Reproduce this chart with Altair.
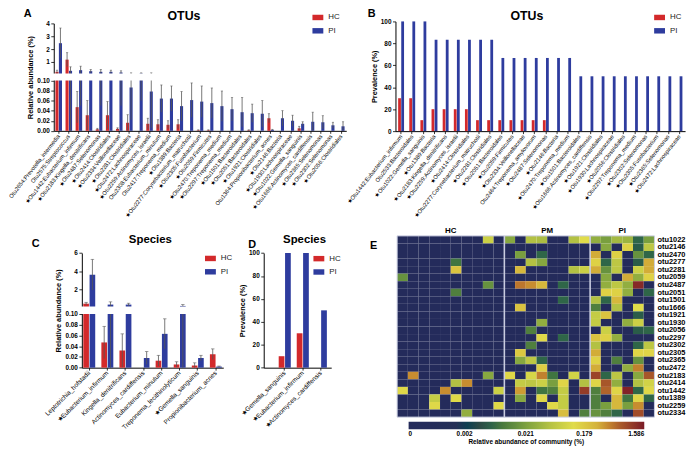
import math
import altair as alt
import pandas as pd

W, H = 692, 441


def V(p):
    return p - 8


FONT = "Liberation Sans"
RED = "#d3292b"
BLUE = "#2e3c9e"
ERRC = "#555555"
GROUPS = ["HC", "PI"]
ONE = pd.DataFrame({"k": [0]})

# ---------------- Panel A: OTUs relative abundance ----------------
A_labels = [
    "Otu2654:Prevotella_intermedia", "Otu2575:Streptococcus",
    "★Otu1442:Eubacterium_infirmum", "★Otu2183:Kingella_denitrificans",
    "★Otu2487:Selenomonas", "★Otu2414:Clostridiales", "★Otu2334:Veillonellaceae",
    "★Otu2281:Clostridiales", "★Otu2472:Lachnospiraceae", "★Otu2259:Actinomyces_israelii",
    "Otu2308:Eubacterium_minutum", "Otu2417:Treponema_medium", "★Otu1389:Bacteria",
    "★Otu2277:Corynebacterium_matruchotii", "★Otu2305:Fusobacterium", "★Otu2059:Firmicutes",
    "★Otu2470:Treponema_medium", "★Otu2297:Treponema_medium", "★Otu1501:Bacteroidales",
    "★Otu2051:Bacteroidales", "★Otu1921:Clostridiales", "Otu1364:Propionibacterium_acnes",
    "★Otu2146:Bacteria", "★Otu1930:Lachnospiraceae", "★Otu1022:Gemella_sanguinis",
    "★Otu1666:Actinomyces_cardiffensis", "★Otu2365:Selenomonas", "★Otu2302:Selenomonas",
    "★Otu2056:Clostridiales",
]
A_hc = [0.23, 1.18, 0.047, 0.031, 0.003, 0.031, 0.004, 0.016, 0.0, 0.014, 0.013, 0.012, 0.013,
        0.0, 0.001, 0.001, 0.0, 0.0, 0.0, 0.001, 0.0, 0.025, 0.0, 0.0, 0.005, 0.0, 0.0, 0.0, 0.0]
A_hc_hi = [0.36, 1.72, 0.078, 0.06, 0.005, 0.058, 0.006, 0.032, 0.0, 0.025, 0.022, 0.02, 0.022,
           0.0, 0.002, 0.002, 0.0, 0.0, 0.0, 0.002, 0.0, 0.034, 0.0, 0.0, 0.009, 0.0, 0.0, 0.0, 0.0]
A_pi = [2.46, 0.31, 0.36, 0.28, 0.23, 0.23, 0.18, 0.086, 0.105, 0.078, 0.064, 0.064, 0.049,
        0.061, 0.058, 0.055, 0.049, 0.043, 0.037, 0.035, 0.034, 0.002, 0.025, 0.02, 0.014,
        0.018, 0.017, 0.011, 0.009]
A_pi_hi = [3.64, 0.62, 0.67, 0.41, 0.41, 0.36, 0.31, 0.15, 0.15, 0.15, 0.091, 0.089, 0.078,
           0.095, 0.089, 0.085, 0.079, 0.066, 0.066, 0.053, 0.06, 0.003, 0.04, 0.031, 0.018,
           0.037, 0.03, 0.017, 0.018]

# ---------------- Panel B: OTUs prevalence ----------------
B_labels = [
    "★Otu1442:Eubacterium_infirmum", "Otu2533:Bacteroidales", "★Otu1022:Gemella_sanguinis",
    "★Otu1389:Bacteria", "★Otu2183:Kingella_denitrificans", "★Otu2259:Actinomyces_israelii",
    "★Otu2414:Clostridiales", "★Otu2277:Corynebacterium_matruchotii", "★Otu2281:Clostridiales",
    "★Otu2051:Bacteroidales", "★Otu2059:Firmicutes", "★Otu2334:Veillonellaceae",
    "Otu2464:Treponema_amylovorum", "★Otu2487:Selenomonas", "★Otu2146:Bacteria",
    "★Otu2470:Treponema_medium", "★Otu1501:Bacteroidales", "★Otu1666:Actinomyces_cardiffensis",
    "★Otu1921:Clostridiales", "★Otu1930:Lachnospiraceae", "★Otu2056:Clostridiales",
    "★Otu2297:Treponema_medium", "★Otu2302:Selenomonas", "★Otu2305:Fusobacterium",
    "★Otu2365:Selenomonas", "★Otu2472:Lachnospiraceae",
]
B_hc = [30, 30, 10, 20, 20, 20, 20, 10, 10, 10, 10, 10, 10, 10,
        0, 0, 0, 0, 0, 0, 0, 0, 0, 0, 0, 0]
B_pi = [100, 100, 100, 83.3, 83.3, 83.3, 83.3, 83.3, 83.3, 66.7, 66.7, 66.7, 66.7, 66.7,
        66.7, 66.7, 50, 50, 50, 50, 50, 50, 50, 50, 50, 50]

# ---------------- Panel C: Species relative abundance ----------------
C_labels = ["Leptotrichia_hofstadii", "★Eubacterium_infirmum", "Kingella_denitrificans",
            "Actinomyces_cardiffensis", "Eubacterium_minutum", "Treponema_lecithinolyticum",
            "★Gemella_sanguinis", "Propionibacterium_acnes"]
C_hc = [0.4, 0.047, 0.032, 0.0, 0.013, 0.006, 0.004, 0.025]
C_hc_hi = [0.55, 0.077, 0.063, 0.0, 0.023, 0.011, 0.009, 0.035]
C_pi = [3.6, 0.3, 0.3, 0.018, 0.063, 0.15, 0.018, 0.002]
C_pi_hi = [5.3, 0.6, 0.45, 0.03, 0.091, 0.3, 0.023, 0.003]

# ---------------- Panel D: Species prevalence ----------------
D_labels = ["★Gemella_sanguinis", "★Eubacterium_infirmum", "★Actinomyces_cardiffensis"]
D_hc = [10, 30, 0]
D_pi = [100, 100, 50]

# ---------------- Panel E: heatmap ----------------
E_rows = ["otu1022", "otu2146", "otu2470", "otu2277", "otu2281", "otu2059", "otu2487", "otu2051",
          "otu1501", "otu1666", "otu1921", "otu1930", "otu2056", "otu2297", "otu2302", "otu2305",
          "otu2365", "otu2472", "otu2183", "otu2414", "otu1442", "otu1389", "otu2259", "otu2334"]
E_groups = ["HC", "PM", "PI"]
E_hc = [
    [0, 0, 0, 0, 0, 0, 0, 0, 0.08, 0],
    [0, 0, 0, 0, 0, 0, 0, 0, 0, 0],
    [0, 0, 0, 0, 0, 0, 0, 0, 0, 0],
    [0, 0, 0, 0, 0, 0.008, 0, 0, 0, 0],
    [0, 0, 0, 0, 0, 0.2, 0, 0, 0, 0],
    [0.015, 0, 0, 0, 0, 0, 0, 0, 0, 0],
    [0, 0, 0, 0, 0, 0, 0, 0, 0.015, 0],
    [0, 0, 0, 0, 0, 0.01, 0, 0, 0, 0],
    [0, 0, 0, 0, 0, 0, 0, 0, 0, 0],
    [0, 0, 0, 0, 0, 0, 0, 0, 0, 0],
    [0, 0, 0, 0, 0, 0, 0, 0, 0, 0],
    [0, 0, 0, 0, 0, 0, 0, 0, 0, 0],
    [0, 0, 0, 0, 0, 0, 0, 0, 0, 0],
    [0, 0, 0, 0, 0, 0, 0, 0, 0, 0],
    [0, 0, 0, 0, 0, 0, 0, 0, 0, 0],
    [0, 0, 0, 0, 0, 0, 0, 0, 0, 0],
    [0, 0, 0, 0, 0, 0, 0, 0, 0, 0],
    [0, 0, 0, 0, 0, 0, 0, 0, 0, 0],
    [0, 0.4, 0, 0, 0, 0, 0, 0, 0.025, 0],
    [0, 0, 0, 0, 0, 0.05, 0.4, 0, 0, 0],
    [0.13, 0, 0, 0, 0.4, 0, 0, 0, 0, 0.08],
    [0, 0, 0, 0.07, 0, 0.13, 0, 0, 0, 0],
    [0, 0, 0, 0.13, 0, 0, 0, 0, 0, 0.13],
    [0, 0, 0, 0, 0, 0, 0.03, 0, 0, 0],
]
E_pm = [
    [0.025, 0, 0.05, 0.045, 0, 0, 0.05, 0.12],
    [0, 0, 0, 0, 0, 0, 0, 0],
    [0, 0.02, 0, 0.006, 0, 0, 0, 0],
    [0, 0, 0.05, 0.025, 0, 0, 0, 0],
    [0, 0.25, 0, 0, 0, 0, 0.05, 0.08],
    [0, 0, 0, 0, 0, 0, 0, 0],
    [0, 0.5, 0.4, 0.25, 0, 0.006, 0, 0],
    [0, 0, 0, 0, 0, 0, 0, 0],
    [0, 0, 0, 0, 0, 0.006, 0, 0],
    [0, 0.2, 0, 0, 0, 0, 0, 0],
    [0, 0, 0, 0, 0, 0, 0, 0],
    [0, 0, 0, 0.03, 0, 0, 0, 0],
    [0, 0, 0.01, 0, 0, 0, 0, 0],
    [0, 0, 0, 0.13, 0, 0.006, 0, 0],
    [0, 0, 0.01, 0, 0, 0, 0, 0],
    [0, 0.18, 0, 0, 0, 0, 0, 0],
    [0, 0.025, 0.06, 0.006, 0, 0, 0, 0],
    [0, 0, 0, 0.16, 0, 0, 0, 0],
    [0.13, 0, 0.1, 0.45, 0.008, 0, 0.09, 0],
    [0, 0.07, 0.06, 0.08, 0.02, 0.14, 0, 0.05],
    [0, 0.35, 0, 0.008, 0.01, 0.07, 0, 1.0],
    [0, 0.025, 0, 0.13, 0, 0.07, 0, 0],
    [0, 0, 0, 0, 0.13, 0.07, 0, 0],
    [0, 0, 0, 0, 0, 0.22, 0, 0.01],
]
E_pi = [
    [0.03, 0.02, 0.04, 0.035, 0.006, 0.02],
    [0, 0.025, 0, 0.15, 0.005, 0.06],
    [0.3, 0, 0.15, 0, 0.015, 0.006],
    [0.15, 0.006, 0.06, 0, 0.005, 0.3],
    [0.3, 0.015, 0.06, 0, 0.08, 0.3],
    [0, 0.025, 0, 0.3, 0.03, 0.15],
    [0, 0.03, 0.06, 0.03, 1.3, 0],
    [0, 0.15, 0.15, 0.03, 0, 0.006],
    [0.05, 0.006, 0.25, 0, 0, 0],
    [0.01, 0, 0.05, 0, 0.12, 0],
    [0.07, 0.2, 0, 0, 0.005, 0],
    [0.07, 0, 0, 0.03, 0.08, 0],
    [0, 0.08, 0, 0, 0.005, 0.006],
    [0.2, 0.15, 0.03, 0, 0, 0],
    [0.05, 0, 0, 0, 0.006, 0.06],
    [0.3, 0, 0, 0, 0.14, 0.14],
    [0.15, 0, 0.01, 0, 0.015, 0],
    [0.3, 0, 0, 0.03, 0.45, 0],
    [0.9, 0.006, 0.06, 0, 0.025, 0.7],
    [0.14, 0.7, 0.03, 0, 0.05, 0.09],
    [0.01, 0.6, 0.14, 1.4, 0.006, 0.13],
    [0.01, 0, 0.25, 0.008, 0.14, 0.006],
    [0.01, 0.02, 0.25, 0.02, 0.4, 0],
    [0.015, 0.01, 0.006, 0, 0.8, 0],
]
E_ticks = [0, 0.002, 0.021, 0.179, 1.586]
E_colors = ["#242b5b", "#242c5a", "#252f56", "#2b4a45", "#4a7a3d", "#7ea23f",
            "#b5c243", "#e0dc4a", "#d4b23a", "#a9592a", "#7a1a26"]

# symlog-style transform used for the colour axis
SYM_C = 0.0003
SYM_L = math.log1p(E_ticks[-1] / SYM_C)


def sym(v):
    return math.log1p(v / SYM_C) / SYM_L


def long_df(labels, hc, pi, hc_hi=None, pi_hi=None):
    recs = []
    for i, lab in enumerate(labels):
        for g, vals, his in (("HC", hc, hc_hi), ("PI", pi, pi_hi)):
            v = vals[i]
            hi = his[i] if his is not None else v
            recs.append(dict(cat=lab, group=g, value=v, hi=hi, lo=max(0.0, 2 * v - hi)))
    return pd.DataFrame(recs)


def color_enc(lx, ly, size=121):
    return alt.Color(
        "group:N",
        scale=alt.Scale(domain=GROUPS, range=[RED, BLUE]),
        legend=alt.Legend(
            orient="none", legendX=V(lx), legendY=V(ly), title=None,
            symbolType="M-1,-0.5H1V0.5H-1Z", symbolSize=size, symbolStrokeWidth=0,
            labelFont=FONT, labelFontSize=8, labelColor="#222222", labelOffset=5,
            rowPadding=3.5, padding=0,
        ),
    )


def bar_panel(df, labels, xr, pin, pout, align, x_axis_y, lab_size, lab_angle, ydomain, yrange,
              yvalues, y_axis_x, ytitle, legend_xy, broken=None, label_expr=None, tick_w=2.5):
    xscale = alt.Scale(domain=labels, range=[V(xr[0]), V(xr[1])], paddingInner=pin,
                       paddingOuter=pout, align=align)
    xaxis = alt.Axis(orient="bottom", offset=V(x_axis_y) - H, labelAngle=lab_angle,
                     labelAlign="right", labelBaseline="middle", labelFont=FONT,
                     labelFontSize=lab_size, labelColor="black", labelPadding=1.5, tickSize=2.5,
                     tickColor="black", tickWidth=0.8, domainColor="black", domainWidth=1,
                     labelOverlap=False, title=None, grid=False)
    X = alt.X("cat:N", sort=labels, scale=xscale, axis=xaxis)
    XO = alt.XOffset("group:N", sort=GROUPS, scale=alt.Scale(domain=GROUPS, paddingInner=0.1))
    yscale = alt.Scale(domain=ydomain, range=[V(r) for r in yrange], nice=False, zero=False)
    ykw = dict(orient="left", offset=-V(y_axis_x), values=yvalues, labelFont=FONT,
               labelFontSize=6.5, labelFontWeight="bold", labelColor="black", labelPadding=1.5,
               tickSize=3, tickColor="black", tickWidth=0.8, domainColor="black",
               domainWidth=1, title=ytitle, titleFont=FONT, titleFontSize=7.5,
               titleFontWeight="bold", titleColor="black", titlePadding=2, grid=False,
               labelOverlap=False)
    if label_expr:
        ykw["labelExpr"] = label_expr
    yaxis = alt.Axis(**ykw)
    base = alt.Chart(df)
    bars = base.mark_bar().encode(
        x=X, xOffset=XO, y=alt.Y("value:Q", scale=yscale, axis=yaxis), y2=alt.datum(0),
        color=color_enc(*legend_xy),
    )
    err = base.transform_filter("datum.hi > datum.value").mark_rule(
        color=ERRC, strokeWidth=0.8).encode(
        x=X, xOffset=XO, y=alt.Y("lo:Q", scale=yscale, axis=yaxis), y2="hi:Q")
    cap = base.transform_filter("datum.hi > datum.value").mark_tick(
        color=ERRC, thickness=0.8, size=tick_w, orient="horizontal").encode(
        x=X, xOffset=XO, y=alt.Y("hi:Q", scale=yscale, axis=yaxis))
    layers = [bars, err, cap]
    if broken:
        gap = alt.Chart(ONE).mark_rect(color="white").encode(
            x=alt.value(V(broken[0])), x2=alt.value(V(broken[1])),
            y=alt.YDatum(broken[2], type="quantitative", scale=yscale, axis=yaxis),
            y2=alt.Y2Datum(broken[3]),
        )
        layers.append(gap)
    return alt.layer(*layers)


def text_at(txt, x, y, size, weight="bold", color="black"):
    return alt.Chart(ONE).mark_text(text=txt, font=FONT, fontSize=size, fontWeight=weight,
                                    color=color, align="center", baseline="middle").encode(
        x=alt.value(V(x)), y=alt.value(V(y)))


broken_expr = "datum.value > 0.1001 ? format(datum.value, 'd') : format(datum.value, '.2f')"

panel_A = bar_panel(
    long_df(A_labels, A_hc, A_pi, A_hc_hi, A_pi_hi), A_labels, (54.3, 350.2), 0.35, 0.165, 0.5,
    129.7, 5.8, -52, [0, 0.1, 0.1001, 4], [129.7, 78.7, 71.7, 21],
    [0, 0.02, 0.04, 0.06, 0.08, 0.1, 1, 2, 3, 4], 54.3, "Relative abundance (%)",
    (316, 9.5), broken=(51, 352, 0.1, 0.1001), label_expr=broken_expr, tick_w=2.2)

panel_B = bar_panel(
    long_df(B_labels, B_hc, B_pi), B_labels, (400, 693), 0.47, 0.24, 0.5,
    130, 5.8, -52, [0, 100], [130, 19], [0, 20, 40, 60, 80, 100], 400, "Prevalence (%)",
    (661.7, 9.5))

panel_C = bar_panel(
    long_df(C_labels, C_hc, C_pi, C_hc_hi, C_pi_hi), C_labels, (82.7, 225.8), 0.34, 0.08, 0.5,
    369.3, 6.5, -45, [0, 0.1, 0.1001, 6], [369.3, 315, 307.3, 253.3],
    [0, 0.02, 0.04, 0.06, 0.08, 0.1, 2, 4, 6], 82.7, "Relative abundance (%)",
    (207.3, 253.3), broken=(79.5, 228, 0.1, 0.1001), label_expr=broken_expr, tick_w=3.5)

panel_D = bar_panel(
    long_df(D_labels, D_hc, D_pi), D_labels, (266.7, 335), 0.33, 0.536, 0.775,
    369.3, 6.5, -45, [0, 100], [369.3, 253.3], [0, 20, 40, 60, 80, 100], 266.7,
    "Prevalence (%)", (317, 253.5))

# ---------------- heatmap ----------------
recs = []
for r, name in enumerate(E_rows):
    vals = E_hc[r] + E_pm[r] + E_pi[r]
    for c, v in enumerate(vals):
        recs.append(dict(otu=name, col=c, col2=c + 1, value=v, t=sym(v)))
E_df = pd.DataFrame(recs)
sizes = [len(E_hc[0]), len(E_pm[0]), len(E_pi[0])]
ncol = sum(sizes)
starts = [sum(sizes[:i]) for i in range(len(sizes))]
grp_df = pd.DataFrame({"g": E_groups, "center": [s + n / 2 for s, n in zip(starts, sizes)]})
sep_df = pd.DataFrame({"b": starts[1:]})

HX0, HX1, HY0, HY1 = 401.7, 662, 236, 419.3
hx = alt.Scale(domain=[0, ncol], range=[V(HX0), V(HX1)], nice=False, zero=False)
hy = alt.Scale(domain=E_rows, range=[V(HY0), V(HY1)], paddingInner=0, paddingOuter=0)
hyaxis = alt.Axis(orient="right", offset=V(HX1) - W, labelFont=FONT, labelFontSize=7.5,
                  labelFontWeight="bold", labelColor="black", labelPadding=2.5, tickSize=0,
                  domain=False, title=None, grid=False, labelOverlap=False)
stops = [i / (len(E_colors) - 1) for i in range(len(E_colors))]
heat = alt.Chart(E_df).mark_rect(strokeWidth=0).encode(
    x=alt.X("col:Q", scale=hx, axis=None),
    x2="col2:Q",
    y=alt.Y("otu:N", sort=E_rows, scale=hy, axis=hyaxis),
    color=alt.Color(
        "t:Q",
        scale=alt.Scale(domain=stops, range=E_colors, nice=False, zero=False, clamp=True),
        legend=alt.Legend(
            orient="none", legendX=V(413.3), legendY=V(424), direction="horizontal",
            gradientLength=238.4, gradientThickness=7.7, gradientStrokeWidth=0,
            title="Relative abundance of community (%)", titleOrient="bottom",
            titleAnchor="middle", titleFont=FONT, titleFontSize=6.5, titleFontWeight="bold",
            titleColor="black", titlePadding=1.5,
            values=[sym(v) for v in E_ticks],
            labelExpr=f"format({SYM_C}*(exp(datum.value*{SYM_L})-1), '.3~f')",
            labelFont=FONT, labelFontSize=6.5, labelFontWeight="bold", labelColor="black",
            labelAlign="center", labelOverlap=False, labelOffset=2, padding=0,
        ),
    ),
)
seps = alt.Chart(sep_df).mark_rule(color="#c9cce0", strokeWidth=1.6).encode(
    x=alt.X("b:Q", scale=hx, axis=None), y=alt.value(V(HY0)), y2=alt.value(V(HY1)))
frame = alt.Chart(ONE).mark_rect(fillOpacity=0, stroke="#c9cce0", strokeWidth=1).encode(
    x=alt.XDatum(0, type="quantitative", scale=hx, axis=None), x2=alt.X2Datum(ncol),
    y=alt.value(V(HY0)), y2=alt.value(V(HY1)))
glab = alt.Chart(grp_df).mark_text(font=FONT, fontSize=8, fontWeight="bold", color="black",
                                   baseline="middle").encode(
    x=alt.X("center:Q", scale=hx, axis=None), y=alt.value(V(231)), text="g:N")
panel_E = alt.layer(heat, seps, frame, glab)

texts = [
    text_at("A", 28, 12, 11), text_at("B", 376, 12, 11),
    text_at("C", 36, 244, 11), text_at("D", 255, 245, 11), text_at("E", 378, 246, 11),
    text_at("OTUs", 186, 14, 12.5), text_at("OTUs", 533, 14, 12.5),
    text_at("Species", 152, 240, 11.5), text_at("Species", 308, 240, 11.5),
]

chart = alt.layer(panel_A, panel_B, panel_C, panel_D, panel_E, *texts).resolve_scale(
    x="independent", y="independent", color="independent", xOffset="independent"
).properties(
    width=W, height=H, padding=0, autosize=alt.AutoSizeParams(type="none")
).configure_view(stroke="transparent")

chart.save("out.html", embed_options={"renderer": "svg", "actions": False})
